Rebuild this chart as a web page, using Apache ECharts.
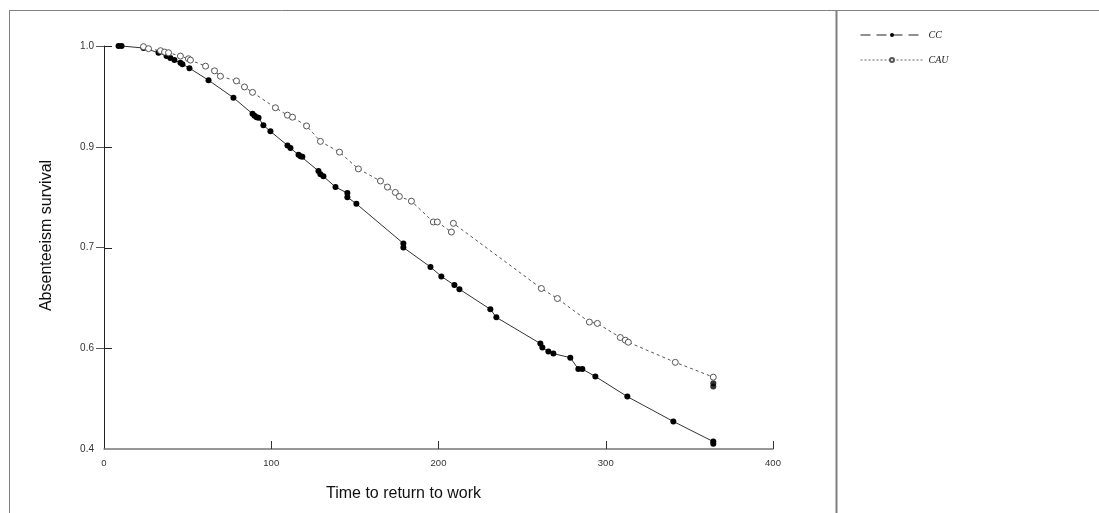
<!DOCTYPE html>
<html>
<head>
<meta charset="utf-8">
<script src="https://cdn.jsdelivr.net/npm/echarts@6/dist/echarts.min.js"></script>
<style>html,body{margin:0;padding:0;background:#fff}#c{width:1099px;height:513px}</style>
</head>
<body>
<div id="c"></div>
<script>
// Data
const ccTime = [8.7,10.5,23.6,32.6,37.4,39.7,42.1,45.7,46.9,51.1,62.5,77.4,88.8,90.0,91.2,92.4,95.3,99.5,109.7,111.5,116.3,117.5,118.6,128.2,129.4,131.2,138.4,145.5,145.5,150.9,179.0,179.0,195.2,201.7,209.5,212.5,231.0,234.6,260.9,262.1,265.7,268.7,278.8,283.6,286.0,293.8,312.9,340.4,364.3,364.3];
const ccSurv = [1.0,1.0,0.997,0.990,0.985,0.982,0.979,0.975,0.973,0.967,0.949,0.923,0.899,0.896,0.894,0.893,0.882,0.873,0.852,0.848,0.838,0.836,0.835,0.814,0.809,0.806,0.790,0.781,0.775,0.765,0.706,0.700,0.671,0.657,0.644,0.638,0.608,0.596,0.557,0.551,0.545,0.542,0.536,0.519,0.519,0.508,0.478,0.441,0.411,0.408];
const cauTime = [23.6,26.6,33.8,36.2,38.6,45.7,50.5,51.7,60.7,66.1,69.6,79.2,84.0,88.8,102.5,109.7,112.7,121.1,129.4,140.8,152.1,165.3,169.5,174.2,176.6,183.8,196.9,199.3,207.7,208.9,261.5,271.1,290.2,295.0,308.7,311.7,313.5,341.6,364.3];
const cauSurv = [0.999,0.996,0.993,0.991,0.990,0.985,0.981,0.979,0.970,0.963,0.955,0.948,0.939,0.931,0.908,0.897,0.894,0.881,0.858,0.842,0.817,0.799,0.790,0.782,0.776,0.769,0.738,0.738,0.723,0.736,0.639,0.624,0.589,0.587,0.566,0.562,0.559,0.529,0.507];
const cauEndTime = [364.3,364.3];
const cauEndSurv = [0.498,0.493];
const xTickValues = [0,100,200,300,400];
const yTickValues = [0.4,0.55,0.7,0.85,1.0];
const yTickLabels = ['0.4','0.6','0.7','0.9','1.0'];

const zip = (a,b) => a.map((v,i) => [v,b[i]]);
const yLabel = v => { const i = yTickValues.findIndex(t => Math.abs(t - v) < 1e-6); return i >= 0 ? yTickLabels[i] : ''; };

const chart = echarts.init(document.getElementById('c'), null, {renderer:'canvas'});
const sans = 'Arial, "Liberation Sans", sans-serif';
chart.setOption({
  animation:false,
  backgroundColor:'#fff',
  grid:{left:104, right:326, top:46, bottom:64},
  xAxis:{
    type:'value', min:0, max:400, interval:100,
    axisLine:{show:true, lineStyle:{color:'#777', width:1.5}},
    axisTick:{show:true, inside:true, length:8, customValues:xTickValues.slice(1), lineStyle:{color:'#333'}},
    axisLabel:{customValues:xTickValues, fontSize:9.5, color:'#333', margin:9, fontFamily:sans},
    splitLine:{show:false},
    name:'Time to return to work', nameLocation:'middle', nameGap:37,
    nameTextStyle:{fontSize:16, color:'#111', fontFamily:sans, padding:[0,70,0,0]}
  },
  yAxis:{
    type:'value', min:0.4, max:1.0,
    axisLine:{show:true, lineStyle:{color:'#222'}},
    axisTick:{show:true, inside:false, length:8, customValues:yTickValues.slice(1), lineStyle:{color:'#555'}},
    axisLabel:{customValues:yTickValues, formatter:yLabel, fontSize:10, color:'#333', margin:10, fontFamily:sans},
    splitLine:{show:false},
    name:'Absenteeism survival', nameLocation:'middle', nameGap:49,
    nameTextStyle:{fontSize:16, color:'#111', fontFamily:sans, padding:[0,0,0,24]}
  },
  legend:{
    orient:'vertical', left:855, top:25, itemWidth:63, itemHeight:5, itemGap:15,
    textStyle:{fontFamily:'"Liberation Serif", "Times New Roman", serif', fontStyle:'italic', fontSize:10, color:'#222'},
    data:[
      {name:'CC', lineStyle:{type:[10,6], color:'#222', width:1}},
      {name:'CAU', lineStyle:{type:[2,2], color:'#666', width:1}}
    ]
  },
  series:[
    {name:'yTicksInside', type:'custom', silent:true, clip:false,
     data:yTickValues.slice(1).map(v => [0, v]),
     renderItem:(params, api) => {
       const p = api.coord([api.value(0), api.value(1)]);
       const y = Math.round(p[1]) + 0.5;
       return {type:'line', shape:{x1:p[0], y1:y, x2:p[0] + 8, y2:y}, style:{stroke:'#222', lineWidth:1}};
     }},
    {name:'CC', type:'line', data:zip(ccTime, ccSurv),
     symbol:'circle', symbolSize:6, showAllSymbol:true,
     itemStyle:{color:'#000'}, lineStyle:{color:'#333', width:1, type:'solid'}},
    {name:'CAU', type:'line', data:zip(cauTime, cauSurv),
     symbol:'circle', symbolSize:6, showAllSymbol:true,
     itemStyle:{color:'#fff', borderColor:'#555', borderWidth:1}, lineStyle:{color:'#555', width:1, type:[3,3]}},
    {name:'CAU end', type:'scatter', data:zip(cauEndTime, cauEndSurv),
     symbol:'circle', symbolSize:6, itemStyle:{color:'#000'}}
  ],
  graphic:[
    {type:'line', shape:{x1:9, y1:10.5, x2:1099, y2:10.5}, style:{stroke:'#808080', lineWidth:1}, silent:true},
    {type:'line', shape:{x1:9.5, y1:10, x2:9.5, y2:513}, style:{stroke:'#808080', lineWidth:1}, silent:true},
    {type:'line', shape:{x1:836.5, y1:10, x2:836.5, y2:513}, style:{stroke:'#808080', lineWidth:2}, silent:true}
  ]
});
</script>
</body>
</html>
